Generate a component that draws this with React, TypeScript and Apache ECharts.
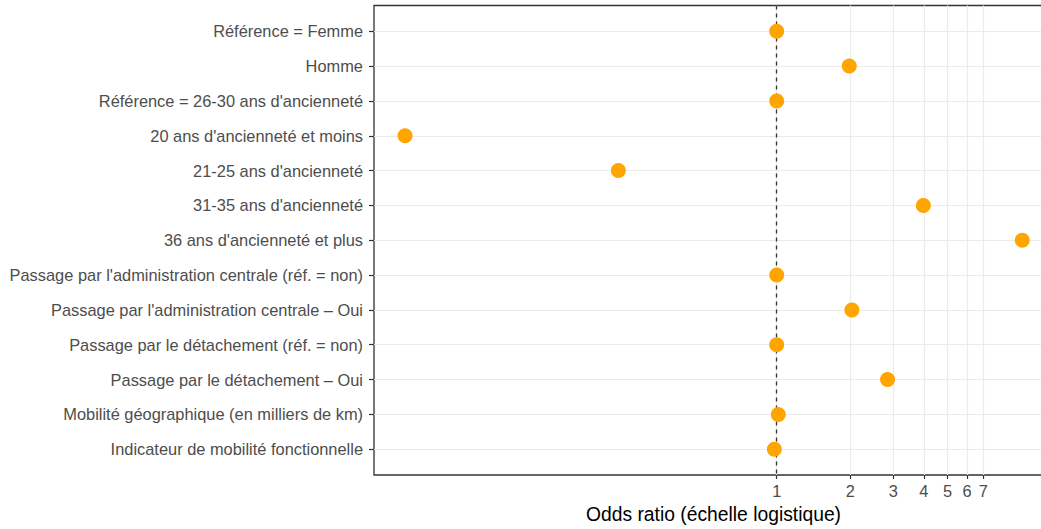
import React, { useEffect, useRef } from "react";
import * as echarts from "echarts";

const categories = [
  "Référence = Femme",
  "Homme",
  "Référence = 26-30 ans d'ancienneté",
  "20 ans d'ancienneté et moins",
  "21-25 ans d'ancienneté",
  "31-35 ans d'ancienneté",
  "36 ans d'ancienneté et plus",
  "Passage par l'administration centrale (réf. = non)",
  "Passage par l'administration centrale – Oui",
  "Passage par le détachement (réf. = non)",
  "Passage par le détachement – Oui",
  "Mobilité géographique (en milliers de km)",
  "Indicateur de mobilité fonctionnelle",
];

const oddsRatios = [1, 1.98, 1, 0.0302, 0.225, 3.98, 10.1, 1, 2.03, 1, 2.84, 1.015, 0.978];

const xTicks = [1, 2, 3, 4, 5, 6, 7];
const yTicks = categories.map((_, i) => i);

const FONT = "'Liberation Sans', Arial, sans-serif";

export default function App() {
  const ref = useRef<HTMLDivElement>(null);
  useEffect(() => {
    if (!ref.current) return;
    const chart = echarts.init(ref.current, undefined, { renderer: "svg" });
    chart.setOption({
      animation: false,
      backgroundColor: "#ffffff",
      textStyle: { fontFamily: FONT },
      grid: {
        left: 374,
        right: 7,
        top: 5.5,
        bottom: 52.5,
        show: true,
        borderColor: "#333333",
        borderWidth: 1.3,
        backgroundColor: "transparent",
      },
      xAxis: {
        type: "log",
        logBase: 10,
        min: 0.02254,
        max: 13.49,
        name: "Odds ratio (échelle logistique)",
        nameLocation: "middle",
        nameGap: 30,
        nameTextStyle: { color: "#000000", fontSize: 19.3, fontFamily: FONT },
        axisLine: { show: false, onZero: false },
        axisTick: {
          show: true,
          length: 4,
          customValues: xTicks,
          lineStyle: { color: "#333333", width: 1.2 },
        },
        axisLabel: {
          customValues: xTicks,
          color: "#4d4d4d",
          fontSize: 16.4,
          margin: 8,
          fontFamily: FONT,
          formatter: (v: number) => String(Math.round(v)),
        },
        splitLine: { show: true, lineStyle: { color: "#ebebeb", width: 1.2 } },
        minorSplitLine: { show: false },
      },
      yAxis: {
        type: "value",
        inverse: true,
        min: -0.74,
        max: 12.74,
        axisLine: { show: false, onZero: false },
        axisTick: {
          show: true,
          length: 5,
          customValues: yTicks,
          lineStyle: { color: "#333333", width: 1.2 },
        },
        axisLabel: {
          customValues: yTicks,
          color: "#4d4d4d",
          fontSize: 16.4,
          margin: 11,
          fontFamily: FONT,
          formatter: (v: number) => categories[Math.round(v)] ?? "",
        },
        splitLine: { show: true, lineStyle: { color: "#ebebeb", width: 1.2 } },
      },
      series: [
        {
          type: "scatter",
          z: 10,
          symbol: "circle",
          symbolSize: 15,
          itemStyle: { color: "#FFA500", opacity: 1 },
          data: oddsRatios.map((v, i) => [v, i]),
          markLine: {
            silent: true,
            symbol: "none",
            label: { show: false },
            lineStyle: { color: "#333333", type: [4, 4], width: 1.3 },
            data: [{ xAxis: 1 }],
          },
        },
      ],
    });
    return () => chart.dispose();
  }, []);
  return (
    <div
      style={{
        position: "absolute",
        left: 0,
        top: 0,
        width: 1041,
        height: 529,
        overflow: "hidden",
      }}
    >
      <div ref={ref} style={{ width: 1060, height: 529 }} />
    </div>
  );
}
